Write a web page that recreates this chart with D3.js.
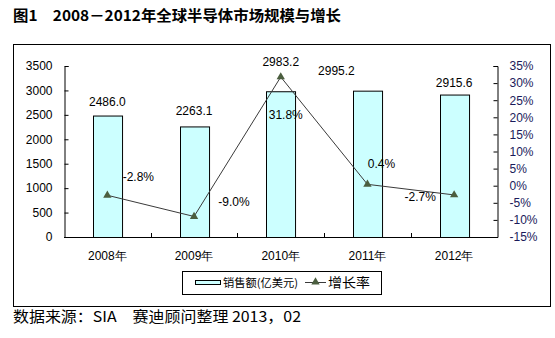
<!DOCTYPE html>
<html><head><meta charset="utf-8">
<script src="https://cdn.jsdelivr.net/npm/d3@7"></script>
<style>body{margin:0;background:#fff}svg{display:block}</style>
</head><body>
<svg id="c" width="555" height="338"></svg>
<script>
const categories = ["2008年","2009年","2010年","2011年","2012年"];
const sales = [2486.0, 2263.1, 2983.2, 2995.2, 2915.6];
const growth = [-2.8, -9.0, 31.8, 0.4, -2.7];
const leftTicks = [0,500,1000,1500,2000,2500,3000,3500];
const rightTicks = [-15,-10,-5,0,5,10,15,20,25,30,35];
const title = "图1　2008－2012年全球半导体市场规模与增长";
const source = "数据来源：SIA　赛迪顾问整理 2013，02";
const seriesNames = ["销售额(亿美元)", "增长率"];

// label nudges (manual placement as in the original chart)
const barLabelShift = [[0,-14],[0,-15],[0,-29],[-31,-20],[0,-12]];
const lineLabelShift = [[31,-18],[40,-14],[5,38],[14,-20],[-34,2]];

const svg = d3.select("#c");
const L = 64, R = 497.5, T = 66, B = 237;
const font = "Arial, 'Liberation Sans', sans-serif";
const cjk = "'Noto Sans CJK SC', sans-serif";

// outer border
svg.append("rect").attr("x",13.5).attr("y",44.5).attr("width",537).attr("height",262)
  .attr("fill","none").attr("stroke","#000").attr("stroke-width",1);

const x = d3.scaleBand().domain(categories).range([L,R]).paddingInner(0.665).paddingOuter(0.3325);
const step = x.step();
const yL = d3.scaleLinear().domain([0,3500]).range([B,T]);
const yR = d3.scaleLinear().domain([-15,35]).range([B,T]);

// bars
svg.selectAll("rect.bar").data(sales).join("rect").attr("class","bar")
  .attr("x",(d,i)=>Math.round(x(categories[i]))+0.5)
  .attr("y",d=>yL(d)+0.5)
  .attr("width",x.bandwidth())
  .attr("height",d=>B-yL(d))
  .attr("fill","#CCFFFF").attr("stroke","#000").attr("stroke-width",1);

// left axis
const la = svg.append("g").attr("transform",`translate(${L+0.5},0)`)
  .call(d3.axisLeft(yL).tickValues(leftTicks).tickSize(-4).tickPadding(12).tickFormat(d3.format("d")));
la.select(".domain").attr("stroke","#000");
la.selectAll("line").attr("stroke","#000");
la.selectAll("text").attr("font-family",font).attr("font-size",12).attr("fill","#000");

// right axis
const ra = svg.append("g").attr("transform",`translate(${R},0)`)
  .call(d3.axisRight(yR).tickValues(rightTicks).tickSize(-4).tickPadding(12).tickFormat(d=>d+"%"));
ra.select(".domain").attr("stroke","#000");
ra.selectAll("line").attr("stroke","#000");
ra.selectAll("text").attr("font-family",font).attr("font-size",12).attr("fill","#1a1a5a");

// bottom axis line and ticks at category boundaries
svg.append("line").attr("x1",L).attr("x2",R).attr("y1",B+0.5).attr("y2",B+0.5).attr("stroke","#000");
const bounds = categories.slice(1).map(c => x(c) + x.bandwidth()/2 - step/2);
svg.selectAll("line.xt").data(bounds).join("line").attr("class","xt")
  .attr("x1",d=>Math.round(d)+0.5).attr("x2",d=>Math.round(d)+0.5)
  .attr("y1",B).attr("y2",B-4).attr("stroke","#000");
svg.selectAll("text.xl").data(categories).join("text").attr("class","xl")
  .attr("x",d=>x(d)+x.bandwidth()/2).attr("y",260)
  .attr("text-anchor","middle").attr("font-family",font).attr("font-size",12).text(d=>d);

// line
const cx = i => x(categories[i]) + x.bandwidth()/2;
const line = d3.line().x((d,i)=>cx(i)).y(d=>yR(d));
svg.append("path").datum(growth).attr("d",line).attr("fill","none").attr("stroke","#3a3a3a").attr("stroke-width",1);
const tri = d3.symbol().type(d3.symbolTriangle).size(30);
svg.selectAll("path.mk").data(growth).join("path").attr("class","mk")
  .attr("d",tri).attr("transform",(d,i)=>`translate(${cx(i)},${yR(d)})`)
  .attr("fill","#4b5e3f");

// bar labels
svg.selectAll("text.bl").data(sales).join("text").attr("class","bl")
  .attr("x",(d,i)=>cx(i)+barLabelShift[i][0]).attr("y",(d,i)=>yL(d)+barLabelShift[i][1]+4)
  .attr("text-anchor","middle").attr("font-family",font).attr("font-size",12).text(d=>d.toFixed(1));

// line labels
svg.selectAll("text.gl").data(growth).join("text").attr("class","gl")
  .attr("x",(d,i)=>cx(i)+lineLabelShift[i][0]).attr("y",(d,i)=>yR(d)+lineLabelShift[i][1]+4)
  .attr("text-anchor","middle").attr("font-family",font).attr("font-size",12).text(d=>d.toFixed(1)+"%");

// legend
svg.append("rect").attr("x",182.5).attr("y",271.5).attr("width",199).attr("height",23)
  .attr("fill","none").attr("stroke","#000");
svg.append("rect").attr("x",195.5).attr("y",280.5).attr("width",25).attr("height",4)
  .attr("fill","#CCFFFF").attr("stroke","#000");
svg.append("text").attr("x",223).attr("y",287).attr("font-family",cjk).attr("font-size",11)
  .attr("textLength",75).attr("lengthAdjust","spacingAndGlyphs").text(seriesNames[0]);
svg.append("line").attr("x1",305).attr("x2",326).attr("y1",282.5).attr("y2",282.5).attr("stroke","#3a3a3a");
svg.append("path").attr("d",tri).attr("transform","translate(315.5,282)").attr("fill","#4b5e3f");
svg.append("text").attr("x",328).attr("y",287).attr("font-family",cjk).attr("font-size",13)
  .attr("textLength",42).attr("lengthAdjust","spacingAndGlyphs").text(seriesNames[1]);

// title & source
svg.append("text").attr("x",13).attr("y",21).attr("font-family",cjk).attr("font-weight","bold")
  .attr("font-size",15).attr("textLength",328).attr("lengthAdjust","spacingAndGlyphs").text(title);
svg.append("text").attr("x",13).attr("y",322).attr("font-family",cjk)
  .attr("font-size",15).attr("textLength",288).attr("lengthAdjust","spacingAndGlyphs").text(source);
</script>
</body></html>
